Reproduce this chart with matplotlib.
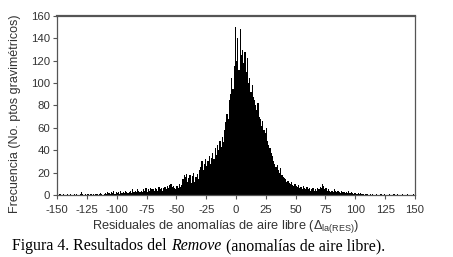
import matplotlib
matplotlib.use("Agg")
import matplotlib.pyplot as plt
import numpy as np

# Histogram bins: left edges from -150 to 149, width 1
bin_left = list(range(-150, 150))
counts = [
    0,0,1,0,0,1,0,0,1,0,
    0,1,0,0,1,0,1,0,0,1,
    3,1,0,1,0,1,1,0,1,0,
    1,0,1,1,0,1,2,1,0,1,
    2,1,3,2,1,3,2,4,1,3,
    2,3,1,4,2,3,2,4,3,2,
    3,4,2,5,3,4,3,5,4,3,
    4,3,5,4,6,3,5,4,6,5,
    5,4,6,5,4,7,5,6,4,6,
    7,5,8,6,9,10,7,8,6,5,
    8,6,10,7,9,14,18,16,19,12,
    15,18,11,17,20,12,16,19,14,22,
    25,30,22,28,32,26,30,35,28,33,
    38,32,42,36,45,40,48,43,52,47,
    58,65,72,68,85,90,105,95,115,150,
    120,140,112,148,125,130,118,128,110,122,
    100,105,92,98,88,85,80,76,82,70,
    68,62,66,58,55,60,48,45,42,38,
    35,30,28,25,27,22,20,24,18,16,
    15,14,12,13,11,10,12,9,8,10,
    8,7,9,6,7,5,8,6,5,7,
    5,6,4,5,6,4,5,4,6,5,
    7,6,10,8,5,6,4,5,4,3,
    4,3,5,4,3,4,3,2,4,3,
    3,2,3,2,4,2,3,2,1,2,
    2,1,2,1,2,1,1,0,1,1,
    1,0,1,0,1,0,0,1,0,0,
    0,1,0,0,1,0,0,0,1,0,
    0,0,1,0,0,1,0,0,0,1,
    0,0,0,1,0,0,0,0,1,0,
]
xticks = list(range(-150, 151, 25))
yticks = list(range(0, 161, 20))

plt.rcParams['font.family'] = ['Liberation Sans', 'DejaVu Sans']
plt.rcParams['mathtext.fontset'] = 'custom'
plt.rcParams['mathtext.rm'] = 'Liberation Sans'
plt.rcParams['axes.unicode_minus'] = False

fig = plt.figure(figsize=(4.53, 2.57), dpi=100)
ax = fig.add_axes([0.126, 0.241, 0.790, 0.697])
ax.bar(bin_left, counts, width=1.0, align='edge', color='black', edgecolor='none')
ax.set_xlim(-150, 150)
ax.set_ylim(0, 160)
ax.set_xticks(xticks)
ax.set_yticks(yticks)
ax.tick_params(axis='both', direction='out', length=3, width=0.8, colors='#555555',
               labelcolor='#333333', labelsize=8.2)
ax.tick_params(axis='x', pad=4)
ax.tick_params(axis='y', pad=2)
for s in ax.spines.values():
    s.set_color('#555555')
    s.set_linewidth(0.9)
ax.spines['top'].set_linewidth(1.6)

fig.text(0.497, 0.117, r'Residuales de anomalías de aire libre ($\Delta_{\rm la(RES)}$)',
         ha='center', va='center', fontsize=9.2, color='#333333')
fig.text(0.033, 0.556, 'Frecuencia (No. ptos gravimétricos)', rotation=90,
         ha='center', va='center', fontsize=9, color='#333333')

cap_y = 0.043
cap_fs = 11.4
t0 = fig.text(0.027, cap_y, 'Figura 4. Resultados del', ha='left', va='center',
              fontsize=cap_fs, family='Liberation Serif', color='black')
fig.canvas.draw()
r = fig.canvas.get_renderer()
W = fig.bbox.width
gap = 4.5
bb = t0.get_window_extent(renderer=r)
t2 = fig.text((bb.x1 + gap) / W, cap_y, 'Remove', ha='left', va='center', fontsize=cap_fs,
              family='Liberation Serif', style='italic', color='black')
bb2 = t2.get_window_extent(renderer=r)
fig.text((bb2.x1 + gap) / W, cap_y, '(anomalías de aire libre).', ha='left',
         va='center', fontsize=cap_fs, family='Liberation Serif', color='black')

fig.savefig('out.png', dpi=100)
